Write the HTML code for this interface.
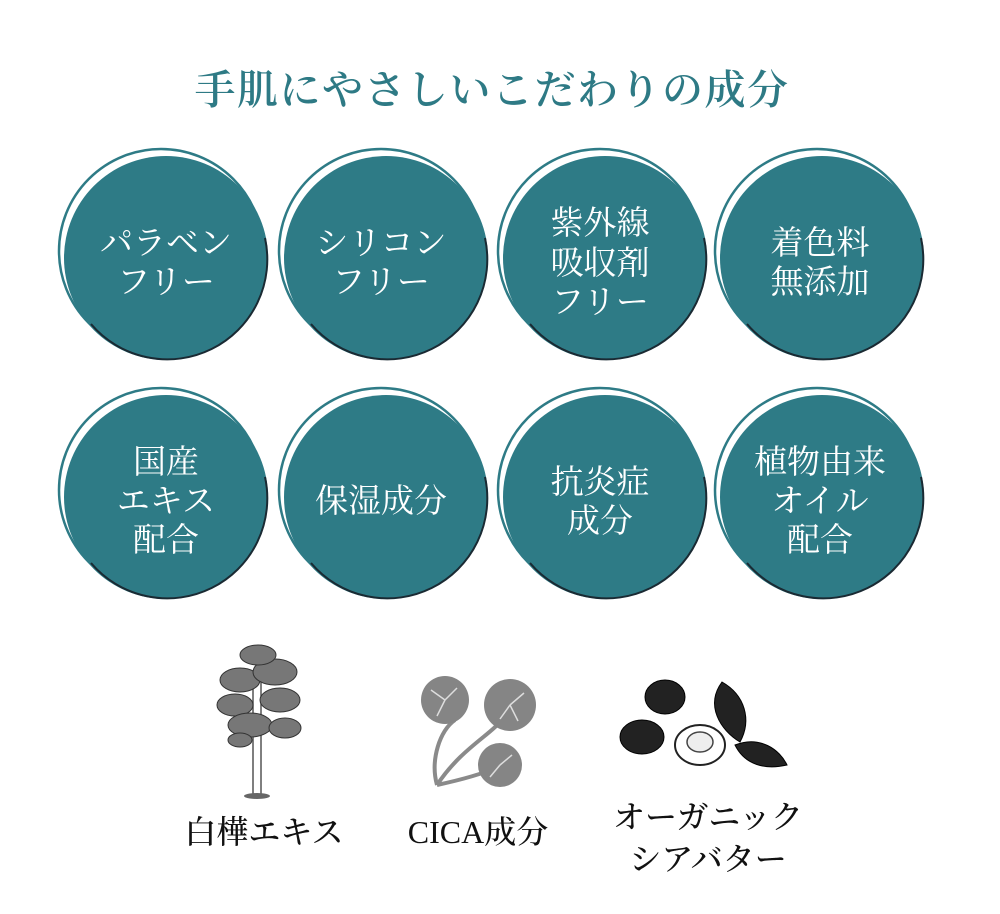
<!DOCTYPE html>
<html><head><meta charset="utf-8"><style>
html,body{margin:0;padding:0;background:#fff;}
svg{display:block}
text{font-family:"Liberation Serif","Noto Serif CJK JP","Noto Serif CJK SC",serif;}
</style></head><body>
<svg width="1000" height="914" viewBox="0 0 1000 914" xmlns="http://www.w3.org/2000/svg">
<text x="492" y="104" text-anchor="middle" font-size="41" font-weight="600" fill="#2e7a85" letter-spacing="1.5">手肌にやさしいこだわりの成分</text>
<defs>
<g id="c">
<circle cx="-5" cy="-7" r="102" fill="none" stroke="#2e7b86" stroke-width="2.5"/>
<circle cx="0" cy="0" r="102" fill="#2e7b86"/>
<path d="M 99 -20 A 100 100 0 0 1 -75 66" fill="none" stroke="#1a2a33" stroke-width="2"/>
</g>
</defs>
<g fill="#fff" font-size="33" text-anchor="middle">
<use href="#c" x="166" y="258"/>
<text x="166" y="254">パラベン</text><text x="166" y="293">フリー</text>
<use href="#c" x="386" y="258"/>
<text x="381" y="254">シリコン</text><text x="381" y="293">フリー</text>
<use href="#c" x="605" y="258"/>
<text x="600" y="234">紫外線</text><text x="600" y="274">吸収剤</text><text x="600" y="313">フリー</text>
<use href="#c" x="822" y="258"/>
<text x="820" y="254">着色料</text><text x="820" y="293">無添加</text>
<use href="#c" x="166" y="497"/>
<text x="166" y="473">国産</text><text x="166" y="512">エキス</text><text x="166" y="551">配合</text>
<use href="#c" x="386" y="497"/>
<text x="381" y="512">保湿成分</text>
<use href="#c" x="605" y="497"/>
<text x="600" y="493">抗炎症</text><text x="600" y="532">成分</text>
<use href="#c" x="822" y="497"/>
<text x="820" y="473">植物由来</text><text x="820" y="512">オイル</text><text x="820" y="551">配合</text>
</g>
<!-- tree -->
<rect x="253" y="680" width="8" height="115" fill="#fff" stroke="#555" stroke-width="1.5"/>
<ellipse cx="257" cy="796" rx="13" ry="3" fill="#666"/>
<g fill="#777" stroke="#333" stroke-width="1">
<ellipse cx="240" cy="680" rx="20" ry="12"/><ellipse cx="275" cy="672" rx="22" ry="13"/>
<ellipse cx="235" cy="705" rx="18" ry="11"/><ellipse cx="280" cy="700" rx="20" ry="12"/>
<ellipse cx="250" cy="725" rx="22" ry="12"/><ellipse cx="285" cy="728" rx="16" ry="10"/>
<ellipse cx="258" cy="655" rx="18" ry="10"/><ellipse cx="240" cy="740" rx="12" ry="7"/>
</g>
<!-- cica -->
<g stroke="#8a8a8a" stroke-width="4" fill="none">
<path d="M437 785 C 430 760 440 730 455 720"/><path d="M437 785 C 460 750 490 735 502 720"/><path d="M437 785 C 460 780 480 775 495 768"/>
</g>
<g fill="#858585">
<circle cx="445" cy="700" r="24"/><circle cx="510" cy="705" r="26"/><circle cx="500" cy="765" r="22"/>
</g>
<g stroke="#ddd" stroke-width="1.5">
<path d="M445 700 l-14 -10 M445 700 l-8 16 M445 700 l12 -12 M510 705 l14 -12 M510 705 l-10 14 M510 705 l8 16 M500 765 l12 -10 M500 765 l-10 12"/>
</g>
<!-- shea -->
<g fill="#222" stroke="#000" stroke-width="1">
<ellipse cx="665" cy="697" rx="20" ry="17"/>
<ellipse cx="642" cy="737" rx="22" ry="17"/>
<path d="M722 682 C 745 695 752 720 740 742 C 720 730 705 705 722 682Z"/>
<path d="M735 745 C 760 735 780 750 787 765 C 765 770 745 765 735 745Z"/>
</g>
<ellipse cx="700" cy="745" rx="25" ry="20" fill="#fff" stroke="#222" stroke-width="2"/>
<ellipse cx="700" cy="742" rx="13" ry="10" fill="#eee" stroke="#444" stroke-width="1.5"/>
<g font-size="32" fill="#111" text-anchor="middle" font-weight="500">
<text x="264" y="843">白樺エキス</text>
<text x="478" y="843">CICA成分</text>
<text x="708" y="828">オーガニック</text>
<text x="708" y="870">シアバター</text>
</g>
</svg>
</body></html>
